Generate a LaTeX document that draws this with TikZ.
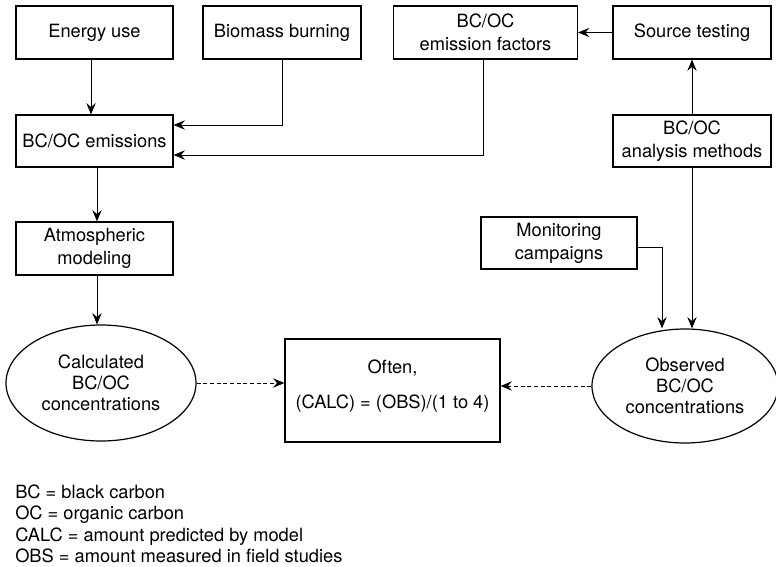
\documentclass[tikz,border=0pt]{standalone}
\usepackage{fontspec}
\setmainfont{TeX Gyre Heros}
\usetikzlibrary{arrows.meta,shapes.geometric}
\def\u{0.75pt}
\begin{document}
\begin{tikzpicture}[x=0.75pt,y=-0.75pt,
 every node/.style={font=\fontsize{13.7}{17.25}\selectfont},
 box/.style={draw,line width=0.9pt,inner sep=0pt,align=center,minimum height=53*\u},
 oval/.style={draw,ellipse,line width=0.9pt,inner sep=0pt,align=center,font=\fontsize{13.7}{15.75}\selectfont},
 arr/.style={line width=0.65pt,-{Stealth[length=8.5pt,width=7pt,inset=3pt]}},
 darr/.style={arr,dash pattern=on 3pt off 2pt},
 legend/.style={anchor=base west,inner sep=0pt}]
\useasboundingbox (0,0) rectangle (776,567);

\node[box,minimum width=157*\u] (energy) at (94.5,32.5) {Energy use};
\node[box,minimum width=158*\u] (bio) at (282,32.5) {Biomass burning};
\node[box,minimum width=184*\u] (ef) at (485.5,32.5) {BC/OC\\emission factors};
\node[box,minimum width=158*\u] (src) at (692,32.5) {Source testing};
\node[box,minimum width=157*\u,minimum height=52*\u] (emis) at (94.5,141) {BC/OC emissions};
\node[box,minimum width=158*\u,minimum height=52*\u] (an) at (692,141) {BC/OC\\analysis methods};
\node[box,minimum width=157*\u] (atm) at (94.5,248.5) {Atmospheric\\modeling};
\node[box,minimum width=156*\u,minimum height=52*\u] (mon) at (559,243) {Monitoring\\campaigns};
\node[oval,minimum width=190*\u,minimum height=116*\u] (calc) at (101,383) {Calculated\\BC/OC\\concentrations};
\node[box,minimum width=215*\u,minimum height=103*\u] (often) at (392.5,390.5) {Often,\\[9pt](CALC) = (OBS)/(1 to 4)\\[-8pt]\mbox{}};
\node[oval,minimum width=186*\u,minimum height=114*\u] (obs) at (685,386) {Observed\\BC/OC\\concentrations};

\draw[arr] ([xshift=-3.5*\u]energy.south) -- ([xshift=-3.5*\u]emis.north);
\draw[arr] (bio.south) |- ([yshift=16*\u]emis.east);
\draw[arr] ([xshift=-2.5*\u]ef.south) |- ([yshift=-14*\u]emis.east);
\draw[arr] (src.west) -- (ef.east);
\draw[arr] (an.north) -- (src.south);
\draw[arr] ([xshift=2.5*\u]emis.south) -- ([xshift=2.5*\u]atm.north);
\draw[arr] ([xshift=2.5*\u]atm.south) -- ([xshift=2.5*\u]atm.south |- calc.north);
\draw[arr] ([yshift=-4*\u]mon.east) -| ([xshift=-23*\u]obs.north);
\draw[arr] (an.south) -- (an.south |- obs.north);
\draw[darr] (calc.east) -- (calc.east -| often.west);
\draw[darr] (obs.west) -- (obs.west -| often.east);

\node[legend] (l1) at (15,498.5) {BC = black carbon};
\node[legend] (l2) at (15,519.5) {OC = organic carbon};
\node[legend] (l3) at (15,541) {CALC = amount predicted by model};
\node[legend] (l4) at (15,562) {OBS = amount measured in field studies};
\end{tikzpicture}
\end{document}
